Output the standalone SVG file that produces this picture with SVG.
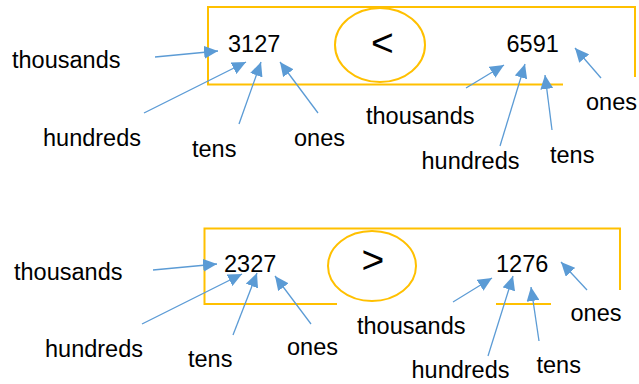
<svg xmlns="http://www.w3.org/2000/svg" width="639" height="384" viewBox="0 0 639 384">
<style>
text{font-family:"Liberation Sans",Arial,sans-serif;fill:#000}
.lbl{font-size:23.5px}
.num{font-size:23.5px}
.sym{font-size:39px;text-anchor:middle}
.box{fill:none;stroke:#FFC000;stroke-width:2}
.arr{stroke:#5B9BD5;stroke-width:1.3;fill:none;marker-end:url(#ah)}
</style>
<defs>
<marker id="ah" markerUnits="userSpaceOnUse" markerWidth="15" markerHeight="13" refX="14" refY="6.5" orient="auto" viewBox="0 0 15 13">
<path d="M0,0 L14,6.5 L0,13 z" fill="#5B9BD5"/>
</marker>
</defs>
<g id="top-frame">
<path class="box" d="M563,84.5 H208 V7 H635 V77"/>
</g>
<g id="top-compare">
<ellipse class="box" cx="380" cy="45" rx="45" ry="37"/>
<text class="sym" x="382.5" y="55.5">&lt;</text>
</g>
<g id="n3127"><text class="num" x="228" y="52">3127</text></g>
<g id="n6591"><text class="num" x="506.5" y="51.5">6591</text></g>
<g id="top-labels">
<text class="lbl" x="12" y="68">thousands</text>
<text class="lbl" x="43" y="146">hundreds</text>
<text class="lbl" x="192" y="157">tens</text>
<text class="lbl" x="294" y="146">ones</text>
<text class="lbl" x="366" y="123.5">thousands</text>
<text class="lbl" x="421.5" y="168.5">hundreds</text>
<text class="lbl" x="550" y="163">tens</text>
<text class="lbl" x="586" y="110">ones</text>
</g>
<g id="bottom-frame">
<path class="box" d="M337,304 H204.5 V228.5 H620 V290"/>
<path class="box" d="M496,304 H551"/>
</g>
<g id="bottom-compare">
<ellipse class="box" cx="372" cy="266" rx="44" ry="35"/>
<text class="sym" x="373" y="273">&gt;</text>
</g>
<g id="n2327"><text class="num" x="224" y="271.5">2327</text></g>
<g id="n1276"><text class="num" x="496" y="271.5">1276</text></g>
<g id="bottom-labels">
<text class="lbl" x="14" y="280">thousands</text>
<text class="lbl" x="45" y="356.5">hundreds</text>
<text class="lbl" x="188" y="366.5">tens</text>
<text class="lbl" x="287" y="355">ones</text>
<text class="lbl" x="357" y="334">thousands</text>
<text class="lbl" x="411.5" y="378">hundreds</text>
<text class="lbl" x="536.5" y="372.5">tens</text>
<text class="lbl" x="570.5" y="320.5">ones</text>
</g>
<g id="connectors">
<line class="arr" x1="155" y1="57" x2="218" y2="51"/>
<line class="arr" x1="144" y1="113" x2="246" y2="62"/>
<line class="arr" x1="239" y1="124" x2="261" y2="62"/>
<line class="arr" x1="318" y1="113" x2="280" y2="62"/>
<line class="arr" x1="466" y1="88" x2="504" y2="65"/>
<line class="arr" x1="500" y1="146" x2="525" y2="64"/>
<line class="arr" x1="552" y1="130" x2="545" y2="75"/>
<line class="arr" x1="601" y1="78" x2="575" y2="48"/>
<line class="arr" x1="153" y1="270" x2="217" y2="264"/>
<line class="arr" x1="142" y1="324" x2="242" y2="274"/>
<line class="arr" x1="233" y1="335" x2="257" y2="273"/>
<line class="arr" x1="311" y1="324" x2="275" y2="276"/>
<line class="arr" x1="453" y1="302" x2="492" y2="278"/>
<line class="arr" x1="488" y1="356" x2="513" y2="276"/>
<line class="arr" x1="539" y1="341" x2="531" y2="287"/>
<line class="arr" x1="587" y1="290" x2="561" y2="262"/>
</g>
</svg>
